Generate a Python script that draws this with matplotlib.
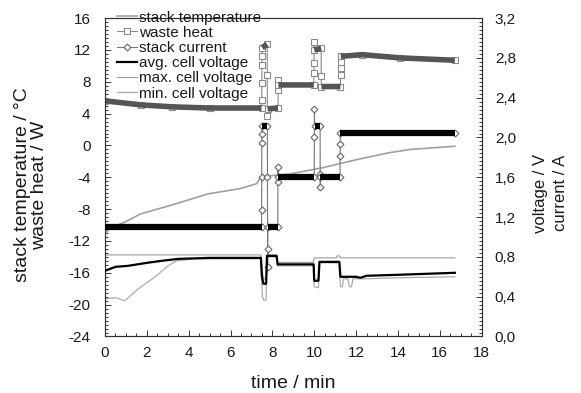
import numpy as np
import matplotlib
matplotlib.use("Agg")
import matplotlib.pyplot as plt
from matplotlib.ticker import MultipleLocator, FuncFormatter

plt.rcParams['font.family'] = ['Liberation Sans', 'DejaVu Sans']
plt.rcParams['axes.unicode_minus'] = False

# ---------------- data ----------------
# stack temperature (deg C) vs time (min)
temp_t = [0, 0.2, 0.9, 1.7, 3.3, 4.9, 6.5, 7.25, 7.45, 8.8, 10.4, 12.0, 13.6, 14.6, 16.72]
temp_v = [-11.3, -10.4, -9.7, -8.6, -7.4, -6.1, -5.4, -4.8, -3.9, -3.6, -2.8, -1.8, -0.9, -0.5, -0.1]

# waste heat (W)
heat_t = [0, 1.7, 3.2, 5.0, 7.48, 7.49, 7.495, 7.50, 7.505, 7.51, 7.75, 7.755, 7.76, 7.77,
          8.27, 8.275, 8.28, 8.285, 9.98, 9.985, 9.99, 9.995, 10.0, 10.33, 10.335, 10.34,
          11.25, 11.255, 11.26, 11.265, 11.27, 12.3, 14.1, 16.72]
heat_v = [5.6, 5.1, 4.85, 4.7, 4.7, 5.75, 7.8, 10.1, 11.2, 12.3, 12.7, 8.9, 3.7, 4.6,
          4.7, 7.0, 8.25, 7.6, 7.6, 9.1, 10.3, 13.0, 12.0, 12.2, 8.7, 7.4,
          7.4, 8.9, 9.7, 10.5, 11.2, 11.4, 11.0, 10.7]

# stack current (A)
cur_t = [0, 7.48, 7.485, 7.49, 7.495, 7.50, 7.505, 7.76, 7.765, 7.77, 7.775, 7.78,
         8.26, 8.265, 8.27, 8.275, 10.0, 10.005, 10.01, 10.015, 10.28, 10.285, 10.29, 10.295,
         11.23, 11.235, 11.24, 11.245, 16.72]
cur_v = [1.10, 1.10, 1.27, 1.60, 1.94, 2.03, 2.12, 2.12, 1.60, 0.88, 0.70, 1.10,
         1.10, 1.70, 1.55, 1.60, 1.60, 2.00, 2.29, 2.12, 2.12, 1.63, 1.50, 1.60,
         1.60, 1.81, 1.93, 2.05, 2.05]

# average cell voltage (V)
avg_t = [0, 0.5, 1.1, 2.0, 2.7, 3.5, 5.0, 7.45, 7.5, 7.57, 7.70, 7.74, 8.2, 8.25, 9.97,
         10.0, 10.2, 10.25, 11.2, 11.25, 12.0, 12.2, 12.5, 14.0, 16.72]
avg_v = [0.66, 0.70, 0.71, 0.74, 0.76, 0.78, 0.79, 0.79, 0.60, 0.53, 0.53, 0.81, 0.81, 0.725, 0.725,
         0.56, 0.56, 0.75, 0.75, 0.60, 0.60, 0.59, 0.61, 0.62, 0.64]

# max. cell voltage (V)
max_t = [0, 7.45, 7.5, 7.57, 7.70, 7.74, 8.2, 8.25, 9.95, 10.0, 11.05, 11.1, 11.2, 11.25, 16.72]
max_v = [0.82, 0.82, 0.70, 0.58, 0.58, 0.82, 0.82, 0.745, 0.745, 0.79, 0.79, 0.81, 0.81, 0.79, 0.79]

# min. cell voltage (V)
min_t = [0, 0.5, 0.95, 1.6, 2.4, 2.95, 3.4, 4.3, 7.45, 7.52, 7.6, 7.7, 7.74, 8.2, 8.25, 9.97,
         10.0, 10.2, 10.25, 11.2, 11.25, 11.35, 11.4, 11.6, 11.68, 11.78, 11.85, 12.5, 14.0, 16.72]
min_v = [0.38, 0.39, 0.36, 0.48, 0.60, 0.70, 0.76, 0.78, 0.78, 0.40, 0.36, 0.37, 0.80, 0.80, 0.71, 0.71,
         0.50, 0.49, 0.74, 0.74, 0.50, 0.50, 0.58, 0.58, 0.50, 0.50, 0.58, 0.58, 0.59, 0.60]

x_ticks = [0, 2, 4, 6, 8, 10, 12, 14, 16, 18]
left_ticks = [-24, -20, -16, -12, -8, -4, 0, 4, 8, 12, 16]
right_ticks = [0.0, 0.4, 0.8, 1.2, 1.6, 2.0, 2.4, 2.8, 3.2]


def plateau_runs(t, v, min_dt=0.1):
    """Join consecutive long-duration stretches (dense recorded points) into runs."""
    xs, ys = [], []
    run_x, run_y = [], []
    for i in range(len(t) - 1):
        if t[i + 1] - t[i] > min_dt:
            if not run_x:
                run_x, run_y = [t[i]], [v[i]]
            run_x.append(t[i + 1]); run_y.append(v[i + 1])
        else:
            if run_x:
                xs += run_x + [np.nan]; ys += run_y + [np.nan]
                run_x, run_y = [], []
    if run_x:
        xs += run_x; ys += run_y
    return xs, ys


fig = plt.figure(figsize=(5.81, 3.93), dpi=100)
ax = fig.add_axes([0.1807, 0.1438, 0.829 - 0.1807, 0.954 - 0.1438])
ax2 = ax.twinx()

FS = 11
TXT = '#1a1a1a'

# left axis series
l_temp, = ax.plot(temp_t, temp_v, color='#a0a0a0', lw=1.2, zorder=2, label='stack temperature')
l_heat, = ax.plot(heat_t, heat_v, color='#8a8a8a', lw=0.8, marker='s', ms=4,
                  mfc='white', mec='#8a8a8a', mew=0.8, zorder=3, label='waste heat')
hx, hy = plateau_runs(heat_t, heat_v)
ax.plot(hx, hy, color='#555555', lw=4.0, solid_capstyle='butt', solid_joinstyle='miter', zorder=4)

# right axis series
l_cur, = ax2.plot(cur_t, cur_v, color='#777777', lw=0.8, marker='D', ms=3.5,
                  mfc='white', mec='#666666', mew=0.8, zorder=3, label='stack current')
cx, cy = plateau_runs(cur_t, cur_v)
ax2.plot(cx, cy, color='black', lw=4.5, solid_capstyle='butt', zorder=4)
l_max, = ax2.plot(max_t, max_v, color='#9a9a9a', lw=0.8, zorder=2, label='max. cell voltage')
l_min, = ax2.plot(min_t, min_v, color='#ababab', lw=0.9, zorder=2, label='min. cell voltage')
l_avg, = ax2.plot(avg_t, avg_v, color='black', lw=1.6, zorder=3, label='avg. cell voltage')

ax.set_xlim(0, 18)
ax.set_ylim(-24, 16)
ax2.set_ylim(0, 3.2)

ax.set_xticks(x_ticks)
ax.set_yticks(left_ticks)
ax2.set_yticks(right_ticks)
ax.xaxis.set_minor_locator(MultipleLocator(0.5))
ax.yaxis.set_minor_locator(MultipleLocator(0.5))
ax2.yaxis.set_minor_locator(MultipleLocator(0.04))
ax2.yaxis.set_major_formatter(FuncFormatter(lambda v, p: f"{v:.1f}".replace('.', ',')))

for a in (ax, ax2):
    a.tick_params(which='both', direction='in', labelsize=FS, colors=TXT, width=0.6)
    a.tick_params(which='major', length=4)
    a.tick_params(which='minor', length=2)
    for s in a.spines.values():
        s.set_linewidth(0.8)
        s.set_color('#333333')
ax.tick_params(axis='y', which='both', right=False, pad=10.5)
ax.tick_params(axis='x', pad=6.5)
ax2.tick_params(axis='y', which='both', left=False, pad=9.5)

ax.set_xlabel('time / min', fontsize=14, color=TXT)
ax.xaxis.set_label_coords(0.5, -0.12)
ax.set_ylabel('stack temperature / °C\nwaste heat / W', fontsize=14, color=TXT,
              linespacing=0.95)
ax.yaxis.set_label_coords(-0.152, 0.476)
ax2.set_ylabel('voltage / V\ncurrent / A', fontsize=12, color=TXT, linespacing=1.4)
ax2.yaxis.set_label_coords(1.136, 0.45)

handles = [l_temp, l_heat, l_cur, l_avg, l_max, l_min]
leg = fig.legend(handles, [h.get_label() for h in handles], loc='upper left',
                 bbox_to_anchor=(0.2014, 0.973), frameon=False, fontsize=11,
                 handlelength=1.3, handletextpad=0.15, labelspacing=0.08, borderpad=0,
                 borderaxespad=0)
for t in leg.get_texts():
    t.set_color(TXT)

fig.savefig('out.png', dpi=100)
